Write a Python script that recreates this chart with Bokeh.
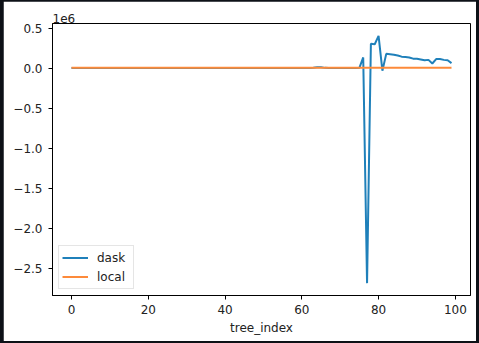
from bokeh.plotting import figure
from bokeh.layouts import column
from bokeh.models import Range1d, FixedTicker, Legend, LegendItem
from bokeh.embed import file_html
from bokeh.resources import INLINE

# ---- data ----
tree_index = list(range(100))
dask = [
    8000, 8000, 8000, 8000, 8000, 8000, 8000, 8000, 8000, 8000,
    8000, 8000, 8000, 8000, 8000, 8000, 8000, 8000, 8000, 8000,
    8000, 8000, 8000, 8000, 8000, 8000, 8000, 8000, 8000, 8000,
    8000, 8000, 8000, 8000, 8000, 8000, 8000, 8000, 8000, 8000,
    8000, 8000, 8000, 8000, 8000, 8000, 8000, 8000, 8000, 8000,
    8000, 8000, 8000, 8000, 8000, 8000, 8000, 8000, 8000, 8000,
    8000, 8000, 8000, 12000, 18000, 17000, 10000, 8000, 8000, 8000,
    8000, 8000, 8000, 8000, 8000, 10000, 140000, -2680000, 310000, 305000,
    410000, -25000, 185000, 180000, 175000, 165000, 150000, 145000, 140000, 125000,
    125000, 115000, 105000, 110000, 65000, 120000, 120000, 110000, 105000, 70000,
]
local = [
    10000, 10000, 10000, 10000, 10000, 10000, 10000, 10000, 10000, 10000,
    10000, 10000, 10000, 10000, 10000, 10000, 10000, 10000, 10000, 10000,
    10000, 10000, 10000, 10000, 10000, 10000, 10000, 10000, 10000, 10000,
    10000, 10000, 10000, 10000, 10000, 10000, 10000, 10000, 10000, 10000,
    10000, 10000, 10000, 10000, 10000, 10000, 10000, 10000, 10000, 10000,
    10000, 10000, 10000, 10000, 10000, 10000, 10000, 10000, 10000, 10000,
    10000, 10000, 10000, 10000, 10000, 10000, 10000, 10000, 10000, 10000,
    10000, 10000, 10000, 10000, 10000, 10000, 10000, 10000, 10000, 10000,
    10000, 10000, 10000, 10000, 10000, 10000, 10000, 10000, 10000, 10000,
    10000, 10000, 10000, 10000, 10000, 10000, 10000, 10000, 10000, 10000,
]
x_ticks = [0, 20, 40, 60, 80, 100]
y_ticks = [500000, 0, -500000, -1000000, -1500000, -2000000, -2500000]
y_tick_labels = ["0.5", "0.0", "\u22120.5", "\u22121.0", "\u22121.5", "\u22122.0", "\u22122.5"]
x_label = "tree_index"
offset_text = "1e6"
series_names = ["dask", "local"]

FONT = "DejaVu Sans"
TXT = "#222222"
BLUE = "#1f80ba"
ORANGE = "#fd8a3a"

xmin, xmax = min(tree_index), max(tree_index)
xpad = 0.05 * (xmax - xmin)
allv = dask + local
ymin, ymax = min(allv), max(allv)
ypad = 0.05 * (ymax - ymin)

p = figure(width=473, height=340, output_backend="svg", toolbar_location=None,
           x_range=Range1d(xmin - xpad, xmax + xpad),
           y_range=Range1d(ymin - ypad, ymax + ypad),
           min_border_left=49, min_border_top=22, min_border_right=6,
           min_border_bottom=46)
p.background_fill_color = "white"
p.border_fill_color = "white"
p.outline_line_color = "black"
p.outline_line_width = 1
p.xgrid.visible = False
p.ygrid.visible = False

p.title.text = offset_text
p.title.align = "left"
p.title.text_font = FONT
p.title.text_font_size = "12px"
p.title.text_font_style = "normal"
p.title.text_color = TXT
p.title.standoff = 2

r1 = p.line(tree_index, dask, line_color=BLUE, line_width=2)
r2 = p.line(tree_index, local, line_color=ORANGE, line_width=2)

for ax in (p.xaxis, p.yaxis):
    ax.major_label_text_font = FONT
    ax.major_label_text_font_size = "12px"
    ax.major_label_text_color = TXT
    ax.axis_line_color = "black"
    ax.major_tick_line_color = "black"
    ax.major_tick_out = 4
    ax.major_tick_in = 0
    ax.minor_tick_line_color = None
    ax.axis_label_text_font = FONT
    ax.axis_label_text_font_size = "12px"
    ax.axis_label_text_font_style = "normal"
    ax.axis_label_text_color = TXT

p.xaxis.ticker = FixedTicker(ticks=x_ticks)
p.xaxis.major_label_standoff = 5
p.xaxis.axis_label = x_label
p.xaxis.axis_label_standoff = 4

p.yaxis.ticker = FixedTicker(ticks=y_ticks)
p.yaxis.major_label_overrides = {t: l for t, l in zip(y_ticks, y_tick_labels)}
p.yaxis.major_label_standoff = 6

legend = Legend(items=[LegendItem(label=series_names[0], renderers=[r1]),
                       LegendItem(label=series_names[1], renderers=[r2])],
                location="bottom_left", margin=6, padding=3, spacing=2,
                glyph_width=26, glyph_height=17, label_height=17,
                label_width=33, label_standoff=9,
                label_text_font=FONT, label_text_font_size="12px",
                label_text_color=TXT,
                border_line_color="#cccccc", border_line_width=1,
                background_fill_color="white", background_fill_alpha=0.8)
p.add_layout(legend)

page = column(p, styles={"background-color": "#0d1117",
                         "padding": "1px 3px 2px 3px"})

open("out.html", "w").write(file_html(page, INLINE))
